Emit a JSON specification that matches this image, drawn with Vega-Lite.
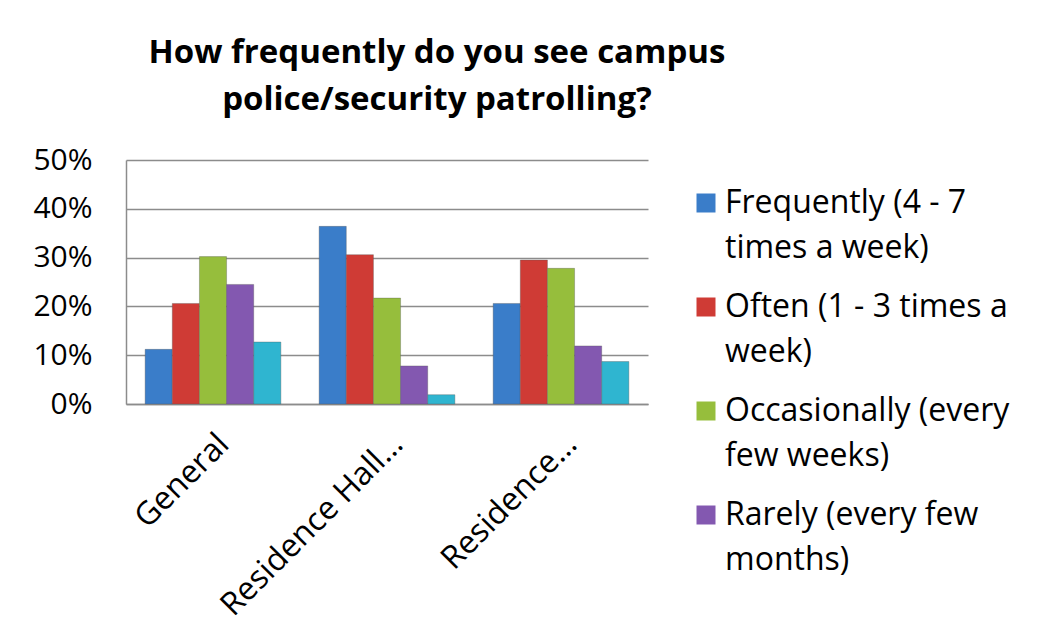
{
  "$schema": "https://vega.github.io/schema/vega-lite/v6.json",
  "width": 522,
  "height": 244,
  "autosize": {"type": "none"},
  "padding": {"left": 126, "top": 160, "right": 391, "bottom": 228},
  "background": "white",
  "title": {
    "text": ["How frequently do you see campus", "police/security patrolling?"],
    "font": "Open Sans",
    "fontWeight": "bold",
    "fontSize": 33,
    "lineHeight": 47,
    "color": "black",
    "anchor": "middle",
    "dx": 50,
    "offset": 28
  },
  "data": {
    "values": [
      {"area": "General", "series": "Frequently (4 - 7 times a week)", "value": 0.112},
      {"area": "General", "series": "Often (1 - 3 times a week)", "value": 0.206},
      {"area": "General", "series": "Occasionally (every few weeks)", "value": 0.302},
      {"area": "General", "series": "Rarely (every few months)", "value": 0.245},
      {"area": "General", "series": "Never", "value": 0.127},
      {"area": "Residence Hall…", "series": "Frequently (4 - 7 times a week)", "value": 0.364},
      {"area": "Residence Hall…", "series": "Often (1 - 3 times a week)", "value": 0.306},
      {"area": "Residence Hall…", "series": "Occasionally (every few weeks)", "value": 0.217},
      {"area": "Residence Hall…", "series": "Rarely (every few months)", "value": 0.078},
      {"area": "Residence Hall…", "series": "Never", "value": 0.019},
      {"area": "Residence…", "series": "Frequently (4 - 7 times a week)", "value": 0.206},
      {"area": "Residence…", "series": "Often (1 - 3 times a week)", "value": 0.295},
      {"area": "Residence…", "series": "Occasionally (every few weeks)", "value": 0.278},
      {"area": "Residence…", "series": "Rarely (every few months)", "value": 0.119},
      {"area": "Residence…", "series": "Never", "value": 0.087}
    ]
  },
  "mark": {"type": "bar", "stroke": "#555555", "strokeOpacity": 0.35, "strokeWidth": 1},
  "encoding": {
    "x": {
      "field": "area",
      "type": "nominal",
      "sort": null,
      "scale": {"paddingInner": 0.22, "paddingOuter": 0.11},
      "axis": {
        "title": null,
        "labelAngle": -45,
        "labelFont": "Open Sans",
        "labelFontSize": 32,
        "labelColor": "black",
        "labelPadding": 24,
        "labelLimit": 400,
        "ticks": false,
        "domainColor": "#8c8c8c",
        "domainWidth": 1.5
      }
    },
    "xOffset": {
      "field": "series",
      "sort": ["Frequently (4 - 7 times a week)", "Often (1 - 3 times a week)", "Occasionally (every few weeks)", "Rarely (every few months)", "Never"],
      "scale": {"paddingInner": 0, "paddingOuter": 0}
    },
    "y": {
      "field": "value",
      "type": "quantitative",
      "scale": {"domain": [0, 0.5]},
      "axis": {
        "title": null,
        "format": ".0%",
        "values": [0, 0.1, 0.2, 0.3, 0.4, 0.5],
        "labelFont": "Open Sans",
        "labelFontSize": 30,
        "labelColor": "black",
        "labelPadding": 34,
        "ticks": false,
        "gridColor": "#8c8c8c",
        "gridWidth": 1.5,
        "domainColor": "#8c8c8c",
        "domainWidth": 1.5
      }
    },
    "color": {
      "field": "series",
      "type": "nominal",
      "scale": {
        "domain": ["Frequently (4 - 7 times a week)", "Often (1 - 3 times a week)", "Occasionally (every few weeks)", "Rarely (every few months)", "Never"],
        "range": ["#3a7dc9", "#cf3b35", "#96be3c", "#8358b0", "#2fb5d0"]
      },
      "legend": {
        "title": null,
        "orient": "none",
        "legendX": 564,
        "legendY": 27,
        "values": ["Frequently (4 - 7 times a week)", "Often (1 - 3 times a week)", "Occasionally (every few weeks)", "Rarely (every few months)"],
        "labelFont": "Open Sans",
        "labelFontSize": 32,
        "labelColor": "black",
        "labelBaseline": "middle",
        "labelLimit": 400,
        "labelOffset": 3,
        "rowPadding": 27,
        "symbolType": "square",
        "symbolSize": 361,
        "symbolStrokeWidth": 0,
        "labelExpr": "datum.label == 'Frequently (4 - 7 times a week)' ? ['Frequently (4 - 7', 'times a week)'] : datum.label == 'Often (1 - 3 times a week)' ? ['Often (1 - 3 times a', 'week)'] : datum.label == 'Occasionally (every few weeks)' ? ['Occasionally (every', 'few weeks)'] : ['Rarely (every few', 'months)']",
        "encoding": {
          "labels": {"lineHeight": {"value": 45}}
        }
      }
    }
  },
  "config": {
    "view": {"stroke": null}
  }
}
